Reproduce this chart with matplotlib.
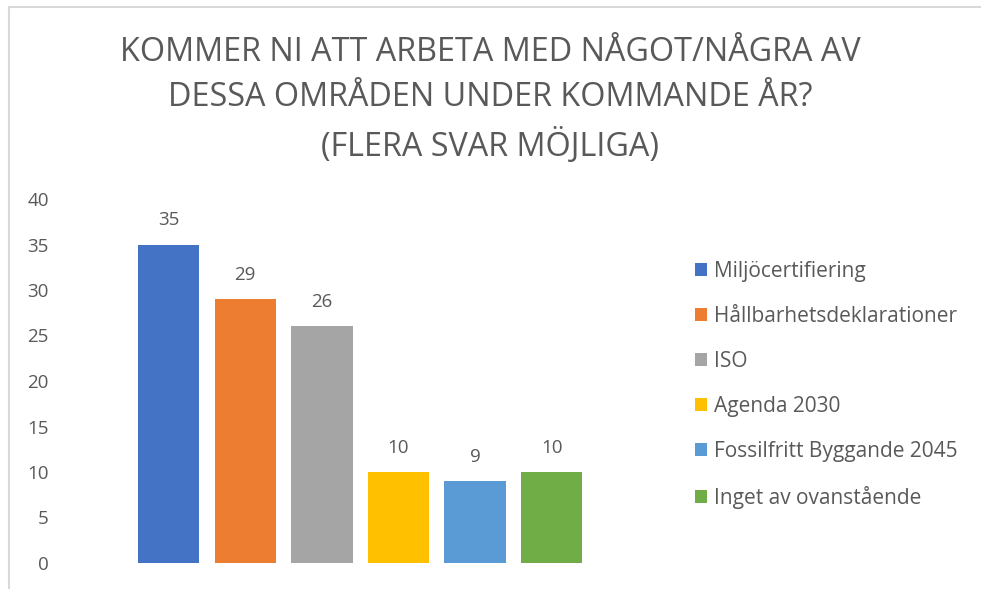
import matplotlib
matplotlib.use("Agg")
import matplotlib.pyplot as plt
from matplotlib.patches import Rectangle, Patch

# data
categories = ["Miljöcertifiering", "Hållbarhetsdeklarationer", "ISO", "Agenda 2030",
              "Fossilfritt Byggande 2045", "Inget av ovanstående"]
values = [35, 29, 26, 10, 9, 10]
colors = ["#4472C4", "#ED7D31", "#A5A5A5", "#FFC000", "#5B9BD5", "#70AD47"]
yticks = [0, 5, 10, 15, 20, 25, 30, 35, 40]
title = "KOMMER NI ATT ARBETA MED NÅGOT/NÅGRA AV\nDESSA OMRÅDEN UNDER KOMMANDE ÅR?\n(FLERA SVAR MÖJLIGA)"

txt = "#595959"
plt.rcParams['font.family'] = ['Open Sans', 'DejaVu Sans']

fig = plt.figure(figsize=(9.81, 5.89), dpi=100)
fig.patches.append(Rectangle((9/981, -0.1), 1.2, 1.1 - 7/589, transform=fig.transFigure,
                             fill=False, edgecolor="#D9D9D9", linewidth=1.5))

ax = fig.add_axes([61.4/981, 26/589, 597.6/981, 364/589])
x = list(range(len(values)))
bars = ax.bar(x, values, width=0.8, color=colors)
for xi, v in zip(x, values):
    ax.text(xi, v + 1.7, str(v), ha="center", va="bottom", fontsize=13.5, color=txt)

ax.set_xlim(-1.4, 6.4)
ax.set_ylim(0, 40)
ax.set_yticks(yticks)
ax.set_xticks([])
ax.tick_params(axis="y", length=0, labelsize=13.5, labelcolor=txt, pad=9)
for s in ax.spines.values():
    s.set_visible(False)

fig.text(490/981, 1 - 36/589, title, ha="center", va="top", fontsize=23.3, color=txt,
         linespacing=1.5)

handles = [Patch(facecolor=c) for c in colors]
fig.legend(handles, categories, loc="upper left", bbox_to_anchor=(676/981, 1 - 242/589),
           frameon=False, fontsize=15, labelcolor=txt, handlelength=0.6, handleheight=0.6,
           handletextpad=0.3, labelspacing=1.15)

fig.savefig("out.png", dpi=100)
